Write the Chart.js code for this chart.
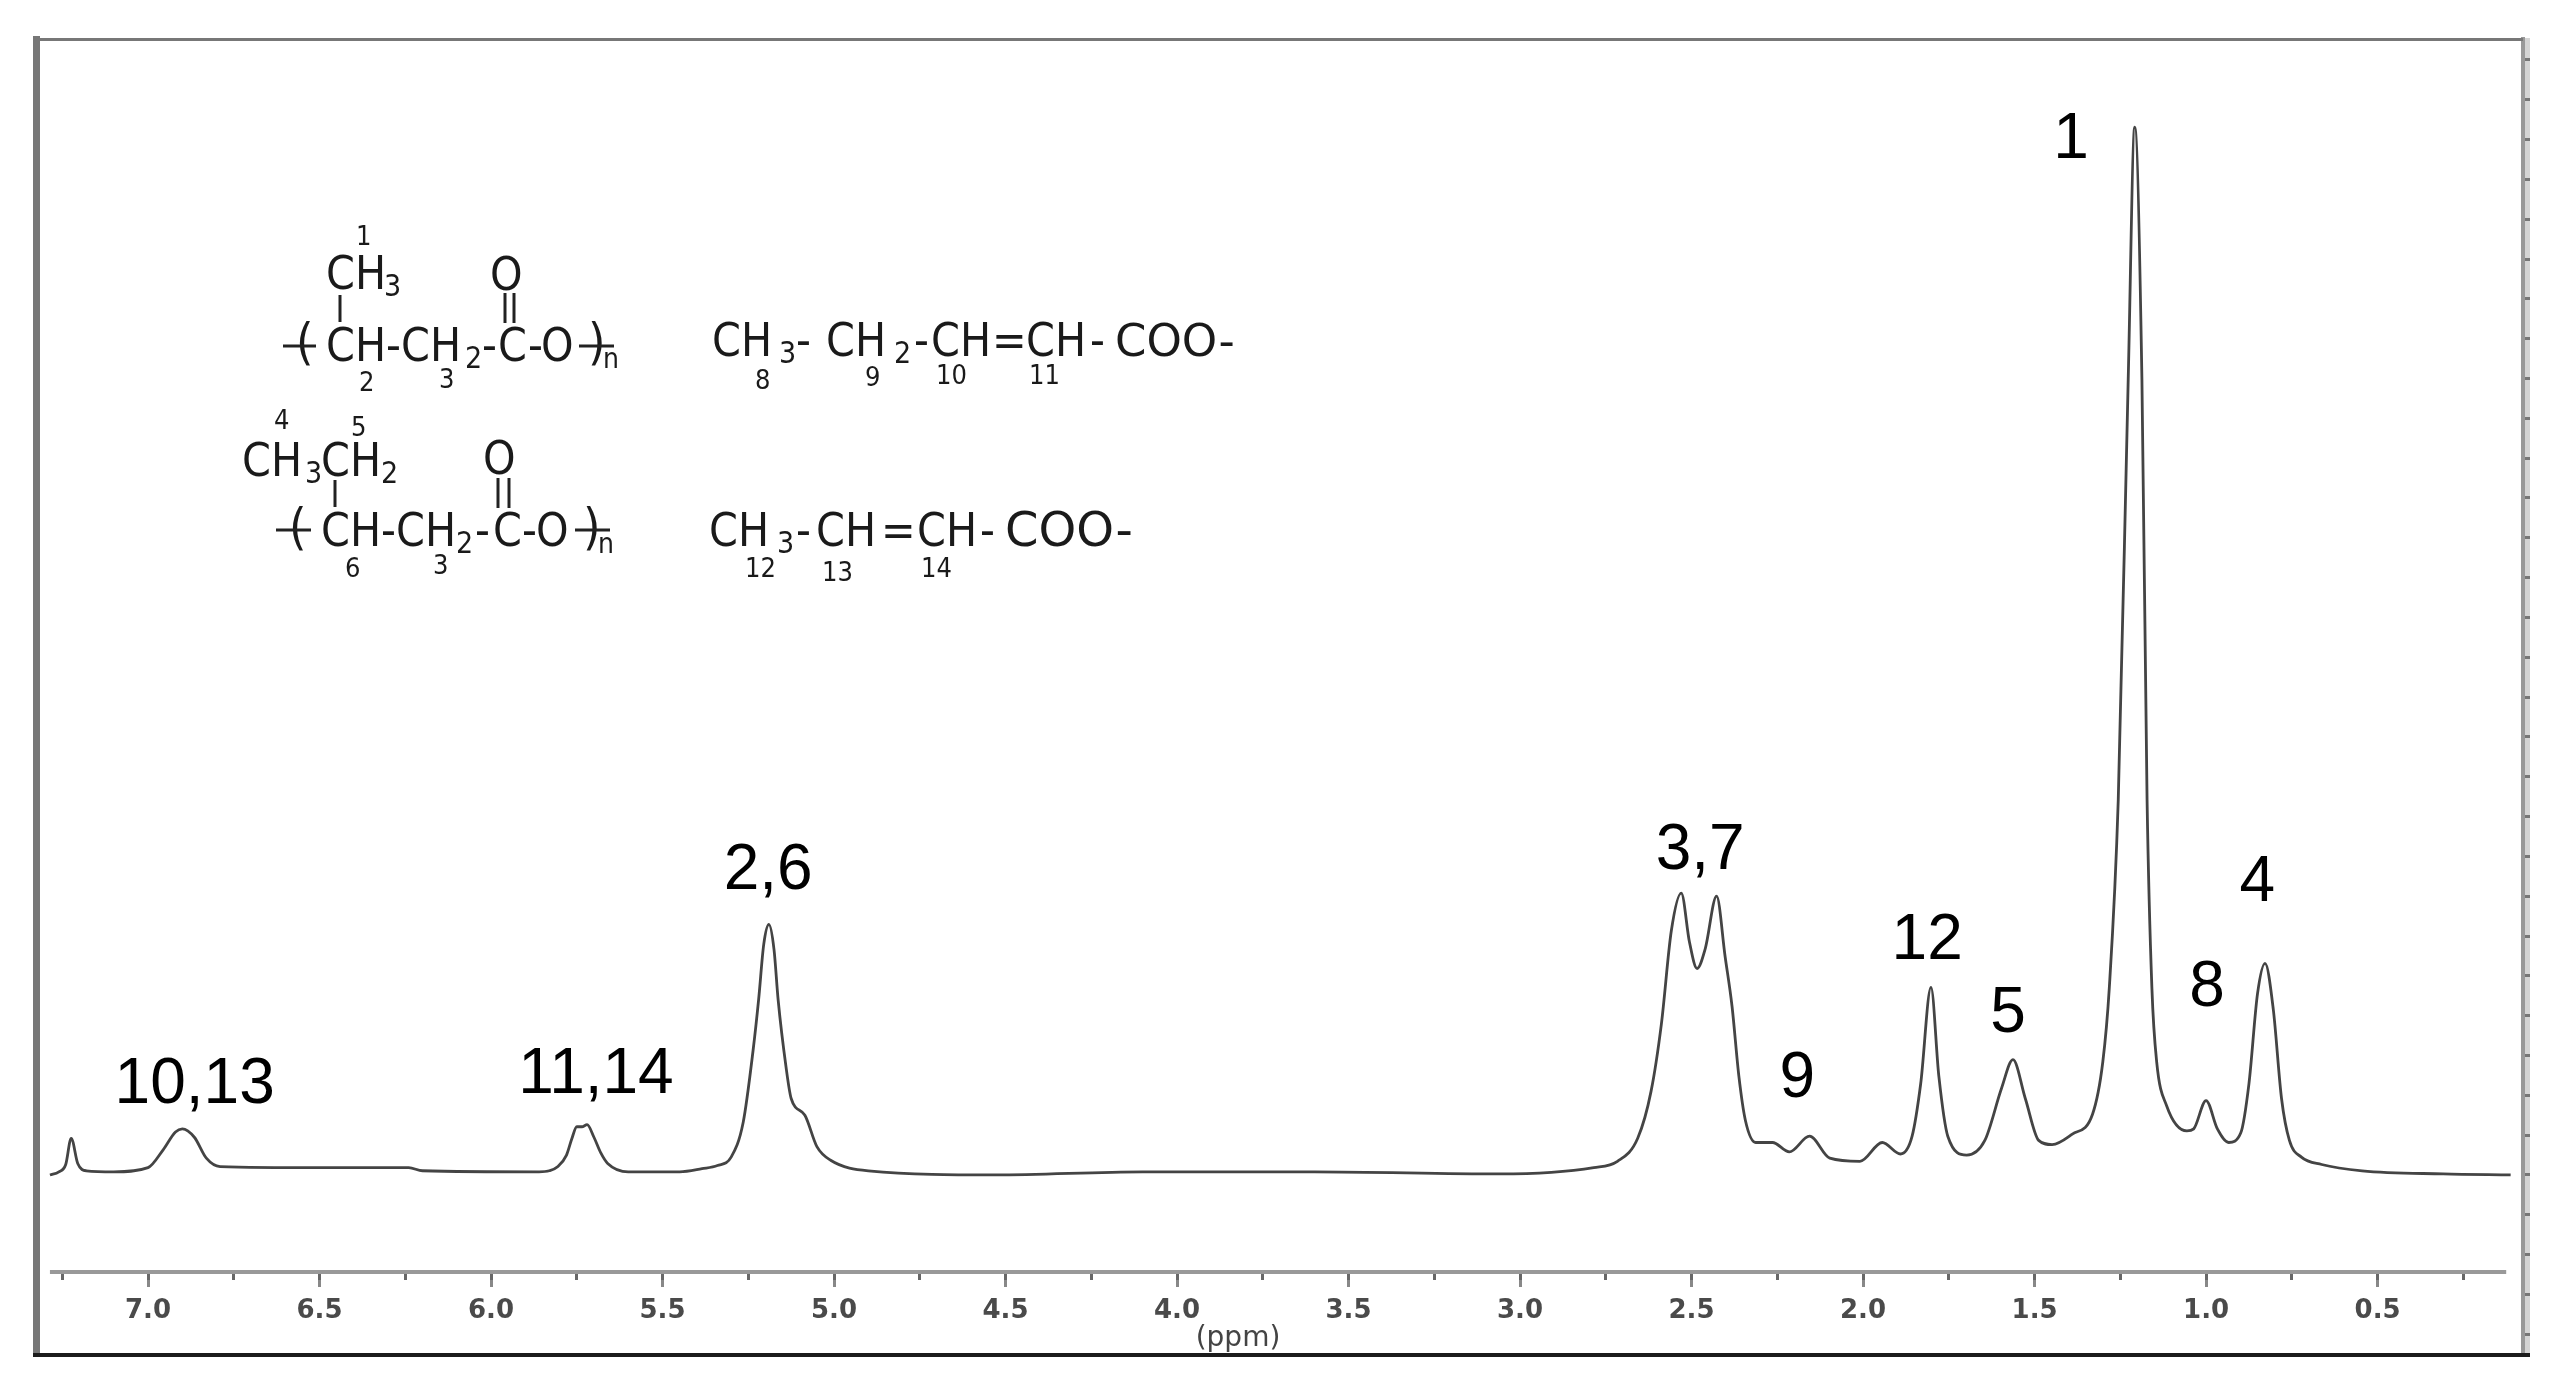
<!DOCTYPE html>
<html>
<head>
<meta charset="utf-8">
<title>1H NMR spectrum</title>
<script src="https://cdn.jsdelivr.net/npm/chart.js@4"></script>
<style>
  html, body { margin: 0; padding: 0; background: #fff; }
  canvas { display: block; }
</style>
</head>
<body>
<canvas id="spectrum" width="2557" height="1386"></canvas>
<script>
// chemical shift (ppm) from left to right
const shifts = [
  7.286, 7.26, 7.24, 7.224, 7.205, 7.18, 7.10, 7.0, 6.956, 6.92, 6.90, 6.865, 6.83, 6.79,
  6.5, 6.24, 6.20, 5.86, 5.83, 5.805, 5.78, 5.765, 5.75, 5.735, 5.72, 5.70, 5.68, 5.66, 5.60,
  5.45, 5.385, 5.34, 5.30, 5.265, 5.236, 5.22, 5.205, 5.19, 5.175, 5.163, 5.14, 5.125,
  5.085, 5.05, 5.01, 4.90, 4.53, 4.1, 3.6, 3.06, 2.785, 2.716, 2.657, 2.618, 2.588,
  2.559, 2.53, 2.506, 2.484, 2.46, 2.427, 2.402, 2.382, 2.362, 2.343, 2.313, 2.264,
  2.215, 2.156, 2.097, 2.009, 1.944, 1.891, 1.857, 1.832, 1.802, 1.779, 1.753, 1.698,
  1.645, 1.596, 1.563, 1.527, 1.488, 1.449, 1.39, 1.331, 1.301, 1.282, 1.256, 1.227,
  1.208, 1.187, 1.172, 1.158, 1.144, 1.115, 1.056, 1.036, 1.0, 0.967, 0.934, 0.899,
  0.875, 0.85, 0.828, 0.804, 0.78, 0.757, 0.722, 0.663, 0.545, 0.309, 0.112
];

// intensity, tallest peak = 100
const intensities = [
  0, 0.3, 1.0, 3.5, 1.1, 0.4, 0.3, 0.7, 2.4, 4.1, 4.4, 3.6, 1.6, 0.8,
  0.7, 0.7, 0.4, 0.3, 0.4, 0.8, 1.9, 3.4, 4.6, 4.6, 4.8, 3.6, 2.1, 1.1, 0.3,
  0.3, 0.6, 0.9, 1.7, 5.0, 11.9, 16.7, 22, 23.9, 21.5, 16.7, 10.3, 7.3,
  5.7, 2.7, 1.4, 0.4, 0, 0.3, 0.3, 0.1, 0.7, 1.3, 3.5, 8.0, 14.4,
  23.3, 26.9, 22.2, 19.7, 21.6, 26.6, 20.8, 16.1, 9.4, 5.2, 3.1, 3.1,
  2.2, 3.7, 1.6, 1.3, 3.1, 2.0, 3.7, 8.7, 17.9, 9.4, 3.7, 1.9,
  3.3, 8.3, 11.0, 7.3, 3.3, 2.9, 3.9, 5.8, 10.8, 17.9, 35.8, 75.9,
  100, 75.9, 35.8, 17.9, 10.8, 6.6, 4.2, 4.4, 7.1, 4.4, 3.1, 4.0,
  8.7, 17.3, 20.2, 15.8, 7.3, 3.3, 1.7, 1.0, 0.4, 0.1, 0
];

const peakLabels = ['10,13', '11,14', '2,6', '3,7', '9', '12', '5', '1', '8', '4'];
const peakLabelShifts = [6.864, 5.694, 5.192, 2.475, 2.192, 1.813, 1.577, 1.394, 0.997, 0.851];
const peakLabelHeights = [6.9, 7.8, 27.3, 29.2, 7.4, 20.6, 13.6, 97.0, 16.1, 26.1];

// the two structures printed inside the plot: text, left, baseline, font size
const formulaText = [
  ['1', 356, 245, 27], ['CH', 326, 289, 46], ['3', 384, 296, 30], ['O', 490, 290, 46],
  ['(', 296, 359, 50], ['CH-CH', 326, 361, 46], ['2', 465, 368, 30], ['-', 482, 361, 46],
  ['C', 498, 361, 46], ['-', 528, 361, 46], ['O', 541, 361, 46], [')', 588, 359, 50],
  ['n', 603, 368, 28], ['2', 359, 391, 27], ['3', 439, 388, 27],
  ['CH', 712, 356, 46], ['3', 779, 363, 30], ['-', 796, 356, 46], ['CH', 826, 356, 46],
  ['2', 894, 363, 30], ['-', 914, 356, 46], ['CH', 931, 356, 46], ['=', 992, 356, 46],
  ['CH', 1026, 356, 46], ['-', 1090, 356, 46], ['COO-', 1115, 356, 45],
  ['8', 755, 389, 27], ['9', 865, 386, 27], ['10', 936, 384, 27], ['11', 1029, 384, 27],
  ['4', 274, 429, 27], ['5', 351, 436, 27], ['CH', 242, 476, 46], ['3', 305, 483, 30],
  ['CH', 321, 476, 46], ['2', 381, 483, 30], ['O', 483, 474, 46],
  ['(', 289, 544, 50], ['CH-CH', 321, 546, 46], ['2', 456, 553, 30], ['-', 475, 546, 46],
  ['C', 493, 546, 46], ['-', 522, 546, 46], ['O', 536, 546, 46], [')', 583, 544, 50],
  ['n', 598, 553, 28], ['6', 345, 577, 27], ['3', 433, 574, 27],
  ['CH', 709, 546, 46], ['3', 777, 553, 30], ['-', 796, 546, 46], ['CH', 816, 546, 46],
  ['=', 881, 546, 46], ['CH', 917, 546, 46], ['-', 980, 546, 46], ['COO-', 1005, 546, 48],
  ['12', 745, 577, 27], ['13', 822, 581, 27], ['14', 921, 577, 27]
];
// bonds of the structures: x1, y1, x2, y2
const formulaBonds = [
  [340, 295, 340, 322], [505, 293, 505, 323], [514, 293, 514, 323],
  [283, 346, 316, 346], [579, 346, 614, 346],
  [335, 480, 335, 507], [498, 478, 498, 508], [509, 478, 509, 508],
  [276, 530, 311, 530], [575, 530, 610, 530]
];

const points = shifts.map((s, i) => ({ x: s, y: intensities[i] }));

const xMin = 0.076, xMax = 7.315;
const xAxisAt = -9.26;

const spectrumDecor = {
  id: 'spectrumDecor',
  // axis rule, only as long as the spectrum window, not the whole frame
  beforeDatasetsDraw(chart) {
    const { ctx, scales } = chart;
    const y = scales.y.getPixelForValue(xAxisAt);
    ctx.save();
    ctx.strokeStyle = '#999';
    ctx.lineWidth = 4;
    ctx.beginPath();
    ctx.moveTo(scales.x.getPixelForValue(7.286), y);
    ctx.lineTo(scales.x.getPixelForValue(0.125), y);
    ctx.stroke();
    ctx.restore();
  },
  afterDraw(chart) {
    const { ctx, scales, chartArea: a } = chart;
    ctx.save();

    // frame
    ctx.strokeStyle = '#777';
    ctx.lineWidth = 7;
    ctx.beginPath(); ctx.moveTo(36.5, 36); ctx.lineTo(36.5, 1357); ctx.stroke();
    ctx.lineWidth = 3;
    ctx.beginPath(); ctx.moveTo(33, 39.5); ctx.lineTo(a.right, 39.5); ctx.stroke();
    ctx.strokeStyle = '#1c1c1c';
    ctx.lineWidth = 4;
    ctx.beginPath(); ctx.moveTo(33, 1355); ctx.lineTo(2530, 1355); ctx.stroke();
    ctx.fillStyle = '#d4d4d4';
    ctx.globalCompositeOperation = 'destination-over';
    ctx.fillRect(a.right, 38, 7, 1317);
    ctx.globalCompositeOperation = 'source-over';

    // peak assignments
    ctx.fillStyle = '#000';
    ctx.textAlign = 'center';
    ctx.textBaseline = 'alphabetic';
    ctx.font = '64px "Liberation Sans"';
    peakLabels.forEach((t, i) => {
      ctx.fillText(t, scales.x.getPixelForValue(peakLabelShifts[i]), scales.y.getPixelForValue(peakLabelHeights[i]));
    });

    // structures, COO- runs wider in the original
    ctx.fillStyle = '#1a1a1a';
    ctx.textAlign = 'left';
    formulaText.forEach(([t, x, y, size]) => {
      ctx.font = size + 'px ' + (t === 'COO-' ? '"DejaVu Sans"' : '"DejaVu Sans Condensed", "DejaVu Sans"');
      ctx.fillText(t, x, y);
    });
    ctx.strokeStyle = '#222';
    ctx.lineWidth = 3;
    formulaBonds.forEach(([x1, y1, x2, y2]) => {
      ctx.beginPath(); ctx.moveTo(x1, y1); ctx.lineTo(x2, y2); ctx.stroke();
    });

    // axis caption sits off-centre, right under the 4.0 label
    ctx.fillStyle = '#444';
    ctx.textAlign = 'center';
    ctx.font = '28px "DejaVu Sans"';
    ctx.fillText('(ppm)', 1238, 1346);
    ctx.restore();
  }
};

new Chart(document.getElementById('spectrum'), {
  type: 'line',
  data: {
    datasets: [{
      label: 'spectrum',
      data: points,
      borderColor: '#444',
      borderWidth: 2.8,
      pointRadius: 0,
      cubicInterpolationMode: 'monotone',
      fill: false
    }]
  },
  options: {
    responsive: false,
    animation: false,
    layout: { autoPadding: false, padding: { left: 40, top: 39, right: 27, bottom: 31 } },
    plugins: { legend: { display: false }, tooltip: { enabled: false } },
    scales: {
      x: {
        type: 'linear',
        reverse: true,
        min: xMin,
        max: xMax,
        position: { y: xAxisAt },
        border: { display: false },
        grid: { drawOnChartArea: false, tickLength: 15, tickColor: '#888', tickWidth: 3 },
        ticks: {
          stepSize: 0.5,
          includeBounds: false,
          autoSkip: false,
          maxRotation: 0,
          padding: 9,
          color: '#4a4a4a',
          font: { family: 'DejaVu Sans', size: 26, weight: 'bold' },
          callback: (v) => v.toFixed(1)
        }
      },
      // short ticks in between the labelled ones
      xMinor: {
        type: 'linear',
        axis: 'x',
        reverse: true,
        min: xMin,
        max: xMax,
        position: { y: xAxisAt },
        border: { display: false },
        grid: { drawOnChartArea: false, tickLength: 8, tickColor: '#666', tickWidth: 3 },
        ticks: {
          stepSize: 0.25,
          includeBounds: false,
          autoSkip: false,
          maxRotation: 0,
          callback: () => ''
        }
      },
      y: {
        type: 'linear',
        position: 'right',
        min: -17.18,
        max: 108.4,
        afterFit: (s) => { s.width = 7; },
        border: { display: true, color: '#999', width: 4 },
        grid: { drawOnChartArea: false, tickLength: 7, tickColor: '#777', tickWidth: 3 },
        ticks: {
          stepSize: 3.8,
          includeBounds: false,
          autoSkip: false,
          callback: () => ''
        }
      }
    }
  },
  plugins: [spectrumDecor]
});
</script>
</body>
</html>
